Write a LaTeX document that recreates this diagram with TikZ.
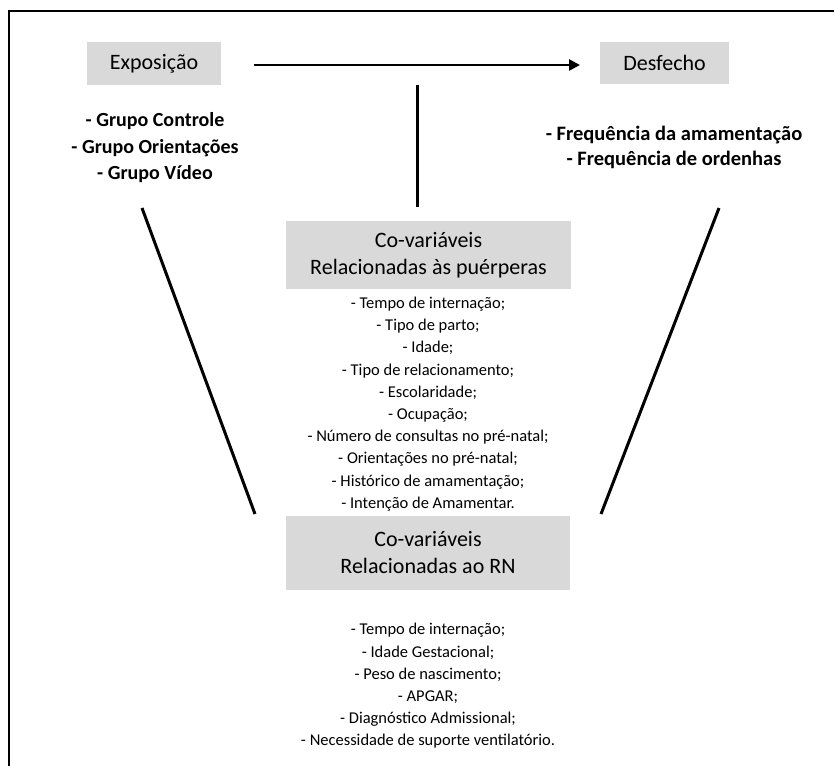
\documentclass[tikz,border=0pt]{standalone}
\usepackage{fontspec}
\setmainfont{Carlito}
\usetikzlibrary{arrows.meta}
\definecolor{boxgray}{HTML}{D9D9D9}
\begin{document}
\begin{tikzpicture}[x=1pt,y=-1pt,
  titlebox/.style={fill=boxgray, inner sep=0pt, align=center, font=\fontsize{22}{27}\selectfont},
  grouptext/.style={inner sep=0pt, align=center, font=\bfseries\fontsize{20}{26.5}\selectfont},
  outctext/.style={inner sep=0pt, align=center, font=\bfseries\fontsize{20.5}{25.5}\selectfont},
  listtext/.style={inner sep=0pt, align=center, font=\fontsize{16.5}{22.2}\selectfont},
  heavy/.style={line width=3pt},
  frameline/.style={line width=2.5pt}]
\useasboundingbox (0,0) rectangle (834,765);
\draw[frameline] (835,11) -- (9,11) -- (9,766);

\node[titlebox, minimum width=134pt, minimum height=43pt] (expo) at (154,63.5) {Exposição};
\node[titlebox, minimum width=129pt, minimum height=42pt] (desf) at (664.5,63) {Desfecho};
\node[titlebox, minimum width=285pt, minimum height=68pt] (cov1) at (428.5,255) {Co-variáveis\\Relacionadas às puérperas};
\node[titlebox, minimum width=284pt, minimum height=74pt] (cov2) at (428,553) {Co-variáveis\\Relacionadas ao RN};

\node[grouptext] (grp) at (155,148) {- Grupo Controle\\- Grupo Orientações\\- Grupo Vídeo};
\node[outctext] (outc) at (674,147.5) {- Frequência da amamentação\\- Frequência de ordenhas};

\node[listtext] (list1) at (428,404) {- Tempo de internação;\\- Tipo de parto;\\- Idade;\\- Tipo de relacionamento;\\- Escolaridade;\\- Ocupação;\\- Número de consultas no pré-natal;\\- Orientações no pré-natal;\\- Histórico de amamentação;\\- Intenção de Amamentar.};
\node[listtext] (list2) at (428,686) {- Tempo de internação;\\- Idade Gestacional;\\- Peso de nascimento;\\- APGAR;\\- Diagnóstico Admissional;\\- Necessidade de suporte ventilatório.};

\coordinate (a1) at (254,65);
\coordinate (a2) at (580,65);
\coordinate (v1) at (417,85);
\coordinate (v2) at (417,207);
\coordinate (l1) at (142,208);
\coordinate (l2) at (255,514);
\coordinate (r1) at (719,208);
\coordinate (r2) at (601,514);

\draw[line width=2.6pt, -{Triangle[length=11pt,width=11pt]}] (a1) -- (a2);
\draw[heavy] (v1) -- (v2);
\draw[heavy] (l1) -- (l2);
\draw[heavy] (r1) -- (r2);
\end{tikzpicture}
\end{document}
